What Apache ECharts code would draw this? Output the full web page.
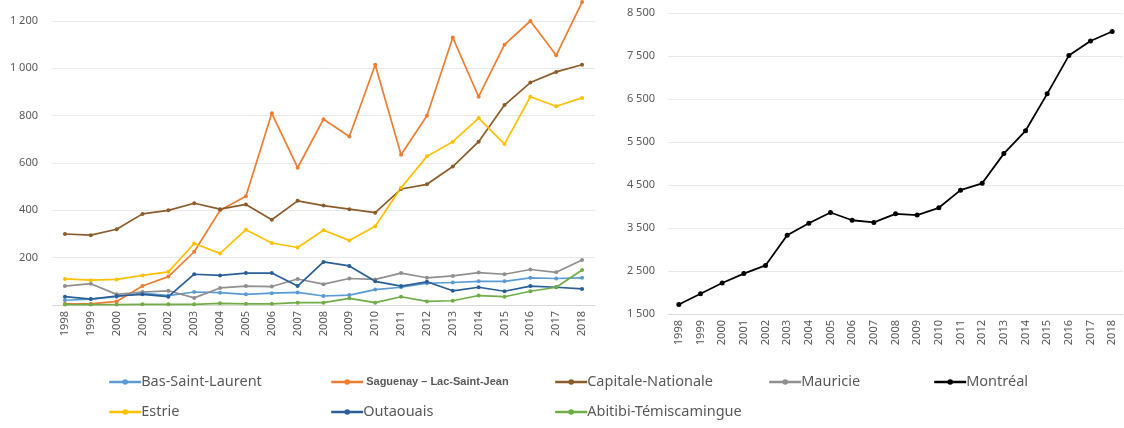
<!DOCTYPE html>
<html>
<head>
<meta charset="utf-8">
<script src="https://cdn.jsdelivr.net/npm/echarts@6/dist/echarts.min.js"></script>
<style>
  html, body { margin: 0; padding: 0; background: #ffffff; }
  #chart { width: 1124px; height: 428px; }
</style>
</head>
<body>
<div id="chart"></div>
<script>
// Years shared by both panels
const years = ['1998','1999','2000','2001','2002','2003','2004','2005','2006','2007','2008','2009','2010','2011','2012','2013','2014','2015','2016','2017','2018'];

// Regional series (left panel)
const basSaintLaurent   = [20, 25, 35, 50, 40, 55, 52, 45, 50, 53, 38, 42, 65, 75, 92, 95, 100, 100, 115, 112, 115];
const saguenay          = [5, 5, 15, 80, 120, 225, 400, 460, 810, 580, 785, 712, 1015, 635, 800, 1130, 880, 1100, 1200, 1055, 1280];
const capitaleNationale = [300, 295, 320, 385, 400, 430, 405, 425, 360, 440, 420, 405, 390, 490, 510, 585, 690, 845, 940, 985, 1015];
const mauricie          = [80, 90, 45, 55, 60, 30, 72, 80, 78, 110, 88, 112, 108, 135, 115, 123, 137, 130, 150, 138, 190];
const estrie            = [110, 105, 108, 125, 140, 260, 218, 318, 262, 243, 316, 273, 333, 495, 628, 690, 790, 680, 880, 840, 875];
const outaouais         = [35, 25, 38, 45, 35, 130, 125, 135, 135, 80, 182, 165, 100, 80, 98, 60, 75, 58, 80, 75, 68];
const abitibi           = [2, 2, 2, 3, 3, 3, 7, 5, 5, 10, 10, 28, 10, 35, 15, 18, 40, 35, 58, 75, 148];

// Montréal (right panel)
const montreal = [1720, 1970, 2220, 2440, 2630, 3330, 3610, 3860, 3680, 3630, 3830, 3800, 3970, 4380, 4540, 5230, 5760, 6620, 7510, 7850, 8070];

// Tick values
const leftTicks  = [0, 200, 400, 600, 800, 1000, 1200];
const rightTicks = [1500, 2500, 3500, 4500, 5500, 6500, 7500, 8500];

const regions = [
  { name: 'Bas-Saint-Laurent',        data: basSaintLaurent,   color: '#5B9BD5' },
  { name: 'Saguenay – Lac-Saint-Jean', data: saguenay,          color: '#ED7D31' },
  { name: 'Capitale-Nationale',       data: capitaleNationale, color: '#8C5C2A' },
  { name: 'Mauricie',                 data: mauricie,          color: '#8F8F8F' },
  { name: 'Estrie',                   data: estrie,            color: '#FFC000' },
  { name: 'Outaouais',                data: outaouais,         color: '#2A5E96' },
  { name: 'Abitibi-Témiscamingue',    data: abitibi,           color: '#70AD47' }
];

const FONT = 'Noto Sans';
const LABEL_COLOR = '#595959';

function spaced(v) {
  return String(v).replace(/\B(?=(\d{3})+(?!\d))/g, ' ');
}

const series = regions.map(r => ({
  name: r.name,
  type: 'line',
  xAxisIndex: 0,
  yAxisIndex: 0,
  data: r.data,
  color: r.color,
  symbol: 'circle',
  symbolSize: 4,
  clip: false,
  lineStyle: { width: 1.7, color: r.color },
  itemStyle: { color: r.color },
  emphasis: { disabled: true },
  animation: false
}));

series.push({
  name: 'Montréal',
  type: 'line',
  xAxisIndex: 1,
  yAxisIndex: 1,
  data: montreal,
  color: '#000000',
  symbol: 'circle',
  symbolSize: 5,
  lineStyle: { width: 1.8, color: '#000000' },
  itemStyle: { color: '#000000' },
  emphasis: { disabled: true },
  animation: false
});

function legendCol(left, names) {
  return {
    orient: 'vertical',
    left: left,
    top: 374,
    padding: 0,
    itemWidth: 32,
    itemHeight: 7,
    itemGap: 14,
    lineStyle: { width: 2.4 },
    textStyle: { fontFamily: FONT, fontSize: 14.5, lineHeight: 16, color: LABEL_COLOR, padding: [0, 0, 0, -5] },
    data: names.map(n => n === 'Saguenay – Lac-Saint-Jean'
      ? { name: n, textStyle: { fontFamily: 'Liberation Sans', fontWeight: 'bold', fontSize: 11, lineHeight: 16, color: LABEL_COLOR, padding: [0, 0, 0, -2] } }
      : { name: n }),
    selectedMode: false
  };
}

const xCommon = {
  type: 'category',
  data: years,
  boundaryGap: true,
  axisTick: { show: false },
  axisLine: { show: true, lineStyle: { color: '#D9D9D9', width: 1 } },
  axisLabel: { rotate: 90, fontFamily: FONT, fontSize: 11, color: LABEL_COLOR, margin: 6, interval: 0 },
  splitLine: { show: false }
};

const option = {
  backgroundColor: '#ffffff',
  animation: false,
  grid: [
    { left: 52, right: 529, top: 21, bottom: 123, containLabel: false },
    { left: 668, right: 1, top: 13, bottom: 114, containLabel: false }
  ],
  xAxis: [
    Object.assign({ gridIndex: 0 }, xCommon),
    Object.assign({ gridIndex: 1 }, xCommon)
  ],
  yAxis: [
    {
      gridIndex: 0,
      type: 'value',
      min: leftTicks[0],
      max: leftTicks[leftTicks.length - 1],
      interval: 200,
      axisLine: { show: false },
      axisTick: { show: false },
      splitLine: { show: true, lineStyle: { color: '#E8E8E8', width: 1 } },
      axisLabel: {
        fontFamily: FONT, fontSize: 11, color: LABEL_COLOR, margin: 14,
        formatter: v => (v === 0 ? '' : spaced(v))
      }
    },
    {
      gridIndex: 1,
      type: 'value',
      min: rightTicks[0],
      max: rightTicks[rightTicks.length - 1],
      interval: 1000,
      axisLine: { show: false },
      axisTick: { show: false, customValues: rightTicks },
      splitLine: { show: true, lineStyle: { color: '#E8E8E8', width: 1 } },
      axisLabel: {
        customValues: rightTicks,
        fontFamily: FONT, fontSize: 11, color: LABEL_COLOR, margin: 13,
        formatter: v => spaced(v)
      }
    }
  ],
  legend: [
    legendCol(108, ['Bas-Saint-Laurent', 'Estrie']),
    legendCol(330, ['Saguenay – Lac-Saint-Jean', 'Outaouais']),
    legendCol(554, ['Capitale-Nationale', 'Abitibi-Témiscamingue']),
    legendCol(768, ['Mauricie']),
    legendCol(933, ['Montréal'])
  ],
  series: series
};

const chart = echarts.init(document.getElementById('chart'), null, { renderer: 'canvas' });
chart.setOption(option);
</script>
</body>
</html>
